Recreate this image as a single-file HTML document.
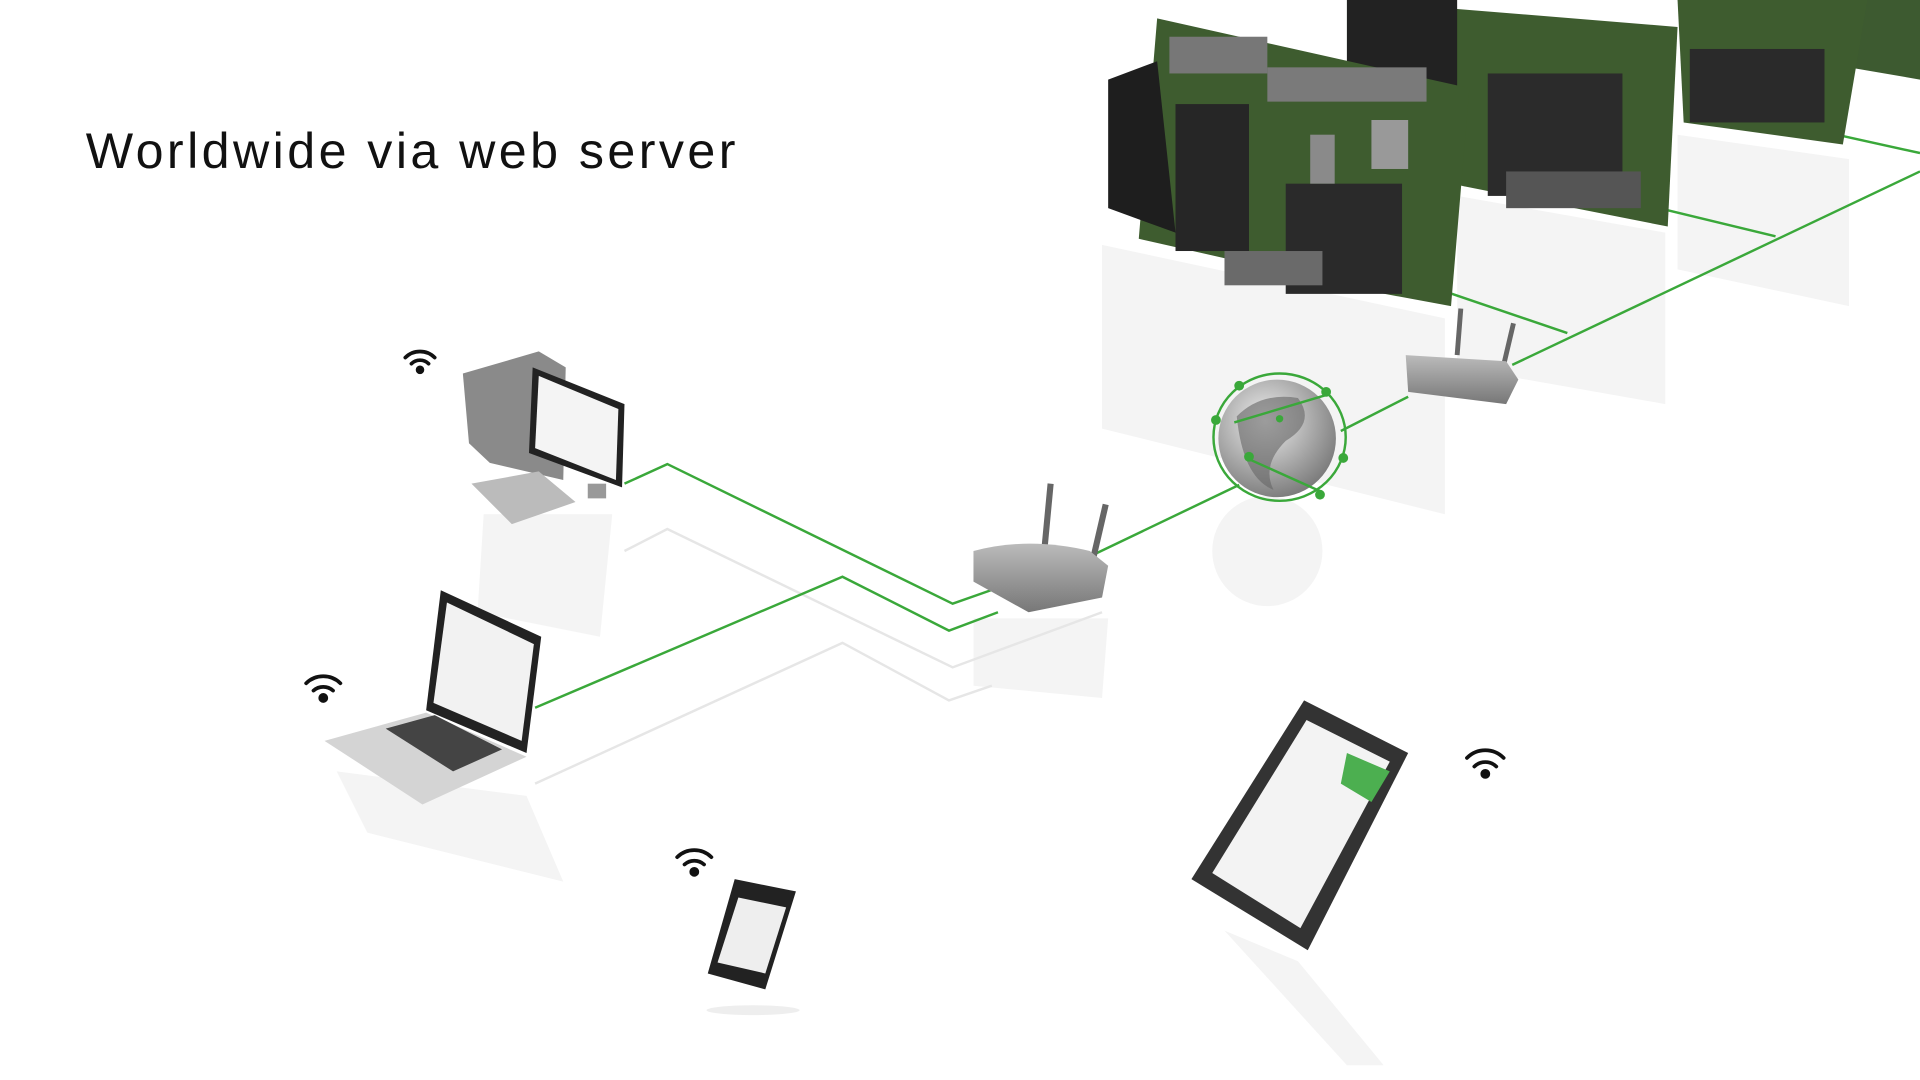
<!DOCTYPE html>
<html><head><meta charset="utf-8"><style>
html,body{margin:0;padding:0;background:#fff;width:1920px;height:1080px;overflow:hidden}
svg{position:absolute;left:0;top:0}
.t{font-family:"Liberation Sans",sans-serif;}
</style></head><body>
<svg width="1920" height="1080" viewBox="0 0 1568 882" preserveAspectRatio="none">
<defs>
<linearGradient id="gr" x1="0" y1="0" x2="0" y2="1"><stop offset="0" stop-color="#bbb"/><stop offset="1" stop-color="#777"/></linearGradient>
<radialGradient id="gl" cx="0.4" cy="0.35" r="0.7"><stop offset="0" stop-color="#eee"/><stop offset="1" stop-color="#777"/></radialGradient>
</defs>
<text x="70" y="137" class="t" font-size="41" fill="#111" letter-spacing="2.8">Worldwide via web server</text>

<!-- reflections -->
<g fill="#f4f4f4">
<polygon points="900,200 1180,260 1180,420 900,350"/>
<polygon points="1190,160 1360,190 1360,330 1190,300"/>
<polygon points="1370,110 1510,130 1510,250 1370,220"/>
<polygon points="395,420 500,420 490,520 390,500"/>
<polygon points="275,630 430,650 460,720 300,680"/>
<polygon points="795,505 905,505 900,570 795,560"/>
<circle cx="1035" cy="450" r="45"/>
</g>
<g fill="none" stroke="#e6e6e6" stroke-width="2">
<polyline points="510,450 545,432 778,545 900,500"/>
<polyline points="437,640 688,525 775,572 810,560"/>
</g>

<!-- green lines -->
<g fill="none" stroke="#3aa83a" stroke-width="2">
<polyline points="510,395 545,379 778,493 815,480"/>
<polyline points="437,578 688,471 775,515 815,500"/>
<polyline points="895,452 1012,396"/>
<polyline points="1095,352 1150,324"/>
<polyline points="1235,298 1568,140"/>
<polyline points="1180,238 1280,272"/>
<polyline points="1355,170 1450,193"/>
<polyline points="1500,110 1568,125"/>
</g>

<!-- PCBs -->
<g>
<polygon points="1515,0 1568,0 1568,65 1510,55" fill="#3d5a30"/>
<polygon points="1370,0 1525,0 1505,118 1375,100" fill="#3e5c2f"/>
<rect x="1380" y="40" width="110" height="60" fill="#2a2a2a"/>
<polygon points="1100,0 1370,22 1362,185 1195,152 1100,130" fill="#3e5c2f"/>
<rect x="1100" y="0" width="90" height="120" fill="#222"/>
<rect x="1215" y="60" width="110" height="100" fill="#2b2b2b"/>
<rect x="1230" y="140" width="110" height="30" fill="#555"/>
<polygon points="945,15 1200,72 1185,250 1120,238 930,195" fill="#3e5c2f"/>
<polygon points="905,65 945,50 960,190 905,170" fill="#1e1e1e"/>
<rect x="955" y="30" width="80" height="30" fill="#777"/>
<rect x="1035" y="55" width="130" height="28" fill="#7a7a7a"/>
<rect x="960" y="85" width="60" height="120" fill="#262626"/>
<rect x="1050" y="150" width="95" height="90" fill="#2a2a2a"/>
<rect x="1070" y="110" width="20" height="40" fill="#8a8a8a"/>
<rect x="1120" y="98" width="30" height="40" fill="#999"/>
<rect x="1000" y="205" width="80" height="28" fill="#6a6a6a"/>
</g>

<!-- router 2 -->
<line x1="1193" y1="252" x2="1190" y2="290" stroke="#666" stroke-width="4"/>
<line x1="1236" y1="264" x2="1228" y2="298" stroke="#666" stroke-width="4"/>
<path d="M1148,290 L1230,295 L1240,310 L1230,330 L1150,320 Z" fill="url(#gr)"/>

<!-- globe -->
<circle cx="1043" cy="358" r="48" fill="url(#gl)"/>
<path d="M1010,340 Q1030,320 1060,325 Q1075,345 1050,360 Q1030,380 1040,400 Q1015,390 1010,340Z" fill="#666" opacity="0.6"/>
<ellipse cx="1045" cy="357" rx="54" ry="52" fill="none" stroke="#3aa83a" stroke-width="2"/>
<line x1="1008" y1="345" x2="1085" y2="322" stroke="#3aa83a" stroke-width="2"/>
<line x1="1020" y1="375" x2="1080" y2="402" stroke="#3aa83a" stroke-width="2"/>
<g fill="#3aa83a"><circle cx="1012" cy="315" r="4"/><circle cx="1083" cy="320" r="4"/><circle cx="993" cy="343" r="4"/><circle cx="1097" cy="374" r="4"/><circle cx="1020" cy="373" r="4"/><circle cx="1078" cy="404" r="4"/><circle cx="1045" cy="342" r="3"/></g>

<!-- router 1 -->
<line x1="858" y1="395" x2="853" y2="448" stroke="#666" stroke-width="5"/>
<line x1="903" y1="412" x2="893" y2="455" stroke="#666" stroke-width="5"/>
<path d="M795,450 Q840,438 890,450 L905,462 L900,488 L840,500 L795,475 Z" fill="url(#gr)"/>

<!-- desktop computer -->
<polygon points="378,305 440,287 462,300 460,392 400,378 383,362" fill="#8a8a8a"/>
<polygon points="435,300 510,330 508,398 432,370" fill="#222"/>
<polygon points="440,307 505,334 503,392 437,366" fill="#f4f4f4"/>
<polygon points="385,395 440,385 470,410 418,428" fill="#bbb"/>
<rect x="480" y="395" width="15" height="12" fill="#999"/>

<!-- laptop -->
<polygon points="360,482 442,520 430,615 348,580" fill="#222"/>
<polygon points="365,492 436,526 426,605 354,574" fill="#f2f2f2"/>
<polygon points="265,605 348,582 430,618 345,657" fill="#d4d4d4"/>
<polygon points="315,595 355,584 410,612 370,630" fill="#444"/>

<!-- phone -->
<polygon points="600,718 650,728 625,808 578,795" fill="#222"/>
<polygon points="603,733 642,741 625,795 586,786" fill="#eee"/>
<ellipse cx="615" cy="825" rx="38" ry="4" fill="#eee"/>

<!-- tablet -->
<polygon points="1000,760 1060,785 1130,870 1100,870" fill="#f4f4f4"/>
<polygon points="1065,572 1150,615 1068,776 973,718" fill="#333"/>
<polygon points="1067,588 1135,622 1062,758 990,713" fill="#f3f3f3"/>
<polygon points="1100,615 1135,630 1120,655 1095,640" fill="#4caf50"/>

<!-- wifi icons -->
<g fill="none" stroke="#111" stroke-width="3" stroke-linecap="round">
<g transform="translate(343,300)"><path d="M-12,-8 A17,17 0 0 1 12,-8"/><path d="M-7,-3 A10,10 0 0 1 7,-3"/><circle cx="0" cy="2" r="2" fill="#111"/></g>
<g transform="translate(264,568)"><path d="M-14,-10 A20,20 0 0 1 14,-10"/><path d="M-8,-4 A12,12 0 0 1 8,-4"/><circle cx="0" cy="2" r="2.5" fill="#111"/></g>
<g transform="translate(567,710)"><path d="M-14,-10 A20,20 0 0 1 14,-10"/><path d="M-8,-4 A12,12 0 0 1 8,-4"/><circle cx="0" cy="2" r="2.5" fill="#111"/></g>
<g transform="translate(1213,630)"><path d="M-15,-11 A21,21 0 0 1 15,-11"/><path d="M-9,-4 A13,13 0 0 1 9,-4"/><circle cx="0" cy="2" r="2.5" fill="#111"/></g>
</g>
</svg>
</body></html>
